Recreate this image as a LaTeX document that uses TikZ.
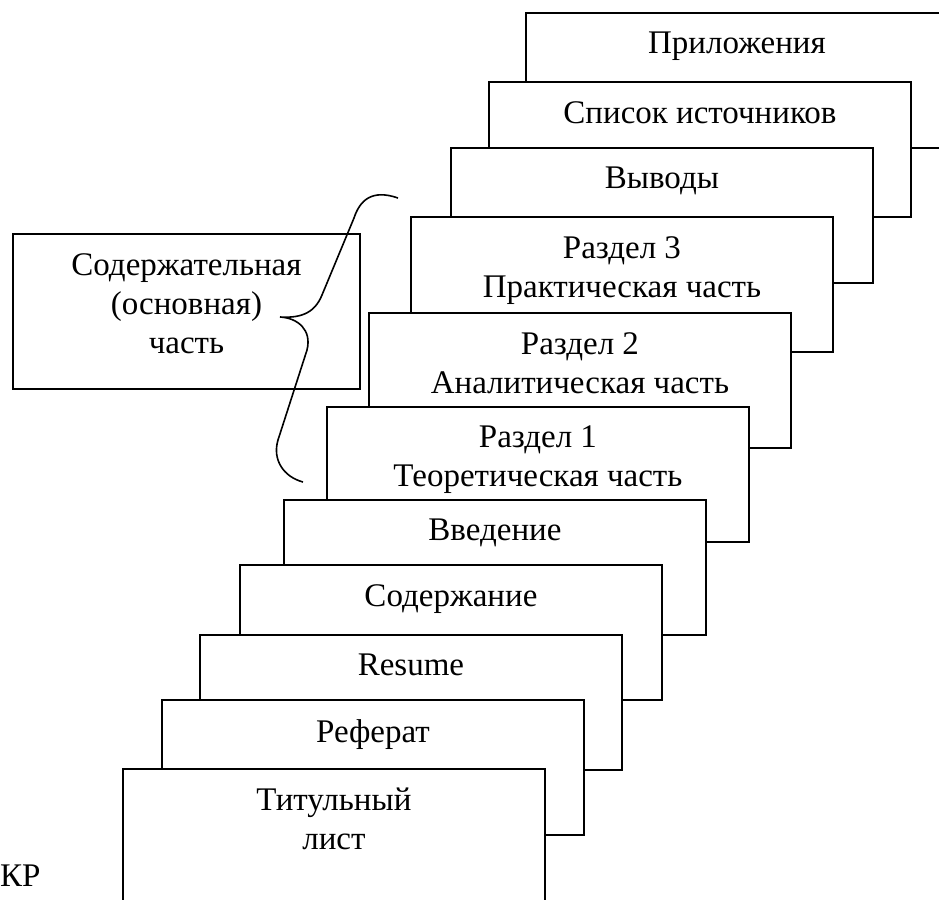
\documentclass[tikz,border=0pt]{standalone}
\usepackage{fontspec}
\setmainfont{Liberation Serif}
\usetikzlibrary{positioning}
\tikzset{every picture/.style={x=1pt,y=-1pt}}
\tikzset{sheet/.style={draw,fill=white,line width=1.9pt,anchor=north west,inner sep=0pt,minimum width=422pt,minimum height=135pt}}
\tikzset{note/.style={draw,line width=1.9pt,anchor=north west,inner sep=0pt,minimum width=347pt,minimum height=155pt}}
\tikzset{lbl/.style={align=center,inner sep=0pt,font=\fontsize{33}{39}\selectfont}}
\tikzset{brace/.style={line width=1.6pt}}

\begin{document}
\begin{tikzpicture}
\useasboundingbox (0,0) rectangle (939,899);
\clip (0,0) rectangle (939,899);

\node[sheet] (pril) at (525,12) {};
\node[lbl,below=20pt of pril.north] (pril-t) {Приложения};
\node[sheet] (spis) at (488,81) {};
\node[lbl,below=20pt of spis.north] (spis-t) {Список источников};
\node[sheet] (vyv) at (450,147) {};
\node[lbl,below=20pt of vyv.north] (vyv-t) {Выводы};
\node[sheet] (razd3) at (410,216) {};
\node[lbl,below=20pt of razd3.north] (razd3-t) {Раздел 3\\Практическая часть};
\node[sheet] (razd2) at (368,312) {};
\node[lbl,below=20pt of razd2.north] (razd2-t) {Раздел 2\\Аналитическая часть};
\node[sheet] (razd1) at (326,406) {};
\node[lbl,below=20pt of razd1.north] (razd1-t) {Раздел 1\\Теоретическая часть};
\node[sheet] (vved) at (283,499) {};
\node[lbl,below=20pt of vved.north] (vved-t) {Введение};
\node[sheet] (sod) at (239,564) {};
\node[lbl,below=20pt of sod.north] (sod-t) {Содержание};
\node[sheet] (res) at (199,634) {};
\node[lbl,below=20pt of res.north] (res-t) {Resume};
\node[sheet] (ref) at (161,699) {};
\node[lbl,below=20pt of ref.north] (ref-t) {Реферат};
\node[sheet] (tit) at (122,768) {};
\node[lbl,below=20pt of tit.north] (tit-t) {Титульный\\лист};

\node[note] (osn) at (12,233) {};
\node[lbl,below=20pt of osn.north] (osn-t) {Содержательная\\(основная)\\часть};
\draw[brace] (398,198) .. controls (372,189) and (360,200) .. (354,218)
  -- (322,295) .. controls (314,315) and (298,318) .. (280,317)
  .. controls (298,318) and (312,330) .. (307,350)
  -- (278,440) .. controls (272,460) and (284,477) .. (303,482);

\node[lbl,anchor=base west] (kr) at (0,886) {КР};
\end{tikzpicture}
\end{document}
